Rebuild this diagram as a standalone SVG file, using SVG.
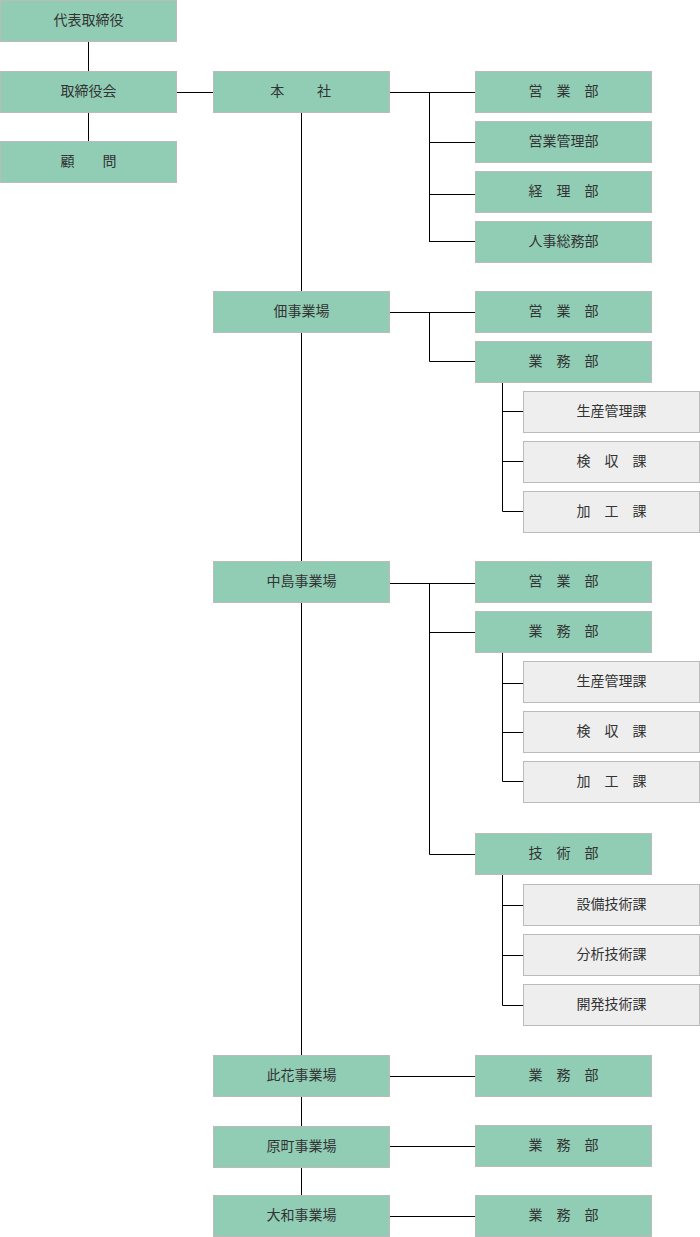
<svg xmlns="http://www.w3.org/2000/svg" width="700" height="1237" viewBox="0 0 700 1237">
<style>
.g{fill:#91cdb5;stroke:#bbbbbb;stroke-width:1}
.s{fill:#eeeeee;stroke:#bbbbbb;stroke-width:1}
.t{font-family:"Noto Sans CJK JP","Noto Sans",sans-serif;font-size:14px;fill:#333333;text-anchor:middle}
.c{fill:none;stroke:#000000;stroke-width:1}
</style>
<rect width="700" height="1237" fill="#ffffff"/>
<g id="connectors" class="c">
<path d="M88.5 42V71M88.5 113V141M177 92.5H213"/>
<path d="M301.5 113V1195"/>
<path d="M390 92.5H475M429.5 92V242M429.5 142.5H475M429.5 194.5H475M429.5 241.5H475"/>
<path d="M390 312.5H475M429.5 312V361.5H475M502.5 383V511.5H523M502.5 411.5H523M502.5 461.5H523"/>
<path d="M390 583.5H475M429.5 583V854.5H475M429.5 632.5H475M502.5 653V781.5H523M502.5 683.5H523M502.5 732.5H523M502.5 875V1005.5H523M502.5 905.5H523M502.5 955.5H523"/>
<path d="M390 1076.5H475M390 1146.5H475M390 1216.5H475"/>
</g>
<g id="n-daihyo"><rect class="g" x="0.5" y="0.5" width="176" height="41"/><text class="t" x="88.5" y="25">代表取締役</text></g>
<g id="n-torishimariyakukai"><rect class="g" x="0.5" y="71.5" width="176" height="41"/><text class="t" x="88.5" y="96">取締役会</text></g>
<g id="n-komon"><rect class="g" x="0.5" y="141.5" width="176" height="41"/><text class="t" x="88.5" y="166">顧　　問</text></g>
<g id="n-honsha"><rect class="g" x="213.5" y="71.5" width="176" height="41"/><text class="t" x="301.5" y="96" letter-spacing="1.6">本　　社</text></g>
<g id="n-honsha-eigyo"><rect class="g" x="475.5" y="71.5" width="176" height="41"/><text class="t" x="563.5" y="96">営　業　部</text></g>
<g id="n-honsha-eigyokanri"><rect class="g" x="475.5" y="121.5" width="176" height="41"/><text class="t" x="563.5" y="146">営業管理部</text></g>
<g id="n-honsha-keiri"><rect class="g" x="475.5" y="171.5" width="176" height="41"/><text class="t" x="563.5" y="196">経　理　部</text></g>
<g id="n-honsha-jinji"><rect class="g" x="475.5" y="221.5" width="176" height="41"/><text class="t" x="563.5" y="246">人事総務部</text></g>
<g id="n-tsukuda"><rect class="g" x="213.5" y="291.5" width="176" height="41"/><text class="t" x="301.5" y="316">佃事業場</text></g>
<g id="n-tsukuda-eigyo"><rect class="g" x="475.5" y="291.5" width="176" height="41"/><text class="t" x="563.5" y="316">営　業　部</text></g>
<g id="n-tsukuda-gyomu"><rect class="g" x="475.5" y="341.5" width="176" height="41"/><text class="t" x="563.5" y="366">業　務　部</text></g>
<g id="n-tsukuda-seisan"><rect class="s" x="523.5" y="391.5" width="176" height="41"/><text class="t" x="611.5" y="416">生産管理課</text></g>
<g id="n-tsukuda-kenshu"><rect class="s" x="523.5" y="441.5" width="176" height="41"/><text class="t" x="611.5" y="466">検　収　課</text></g>
<g id="n-tsukuda-kako"><rect class="s" x="523.5" y="491.5" width="176" height="41"/><text class="t" x="611.5" y="516">加　工　課</text></g>
<g id="n-nakajima"><rect class="g" x="213.5" y="561.5" width="176" height="41"/><text class="t" x="301.5" y="586">中島事業場</text></g>
<g id="n-nakajima-eigyo"><rect class="g" x="475.5" y="561.5" width="176" height="41"/><text class="t" x="563.5" y="586">営　業　部</text></g>
<g id="n-nakajima-gyomu"><rect class="g" x="475.5" y="611.5" width="176" height="41"/><text class="t" x="563.5" y="636">業　務　部</text></g>
<g id="n-nakajima-seisan"><rect class="s" x="523.5" y="661.5" width="176" height="41"/><text class="t" x="611.5" y="686">生産管理課</text></g>
<g id="n-nakajima-kenshu"><rect class="s" x="523.5" y="711.5" width="176" height="41"/><text class="t" x="611.5" y="736">検　収　課</text></g>
<g id="n-nakajima-kako"><rect class="s" x="523.5" y="761.5" width="176" height="41"/><text class="t" x="611.5" y="786">加　工　課</text></g>
<g id="n-nakajima-gijutsu"><rect class="g" x="475.5" y="833.5" width="176" height="41"/><text class="t" x="563.5" y="858">技　術　部</text></g>
<g id="n-nakajima-setsubi"><rect class="s" x="523.5" y="884.5" width="176" height="41"/><text class="t" x="611.5" y="909">設備技術課</text></g>
<g id="n-nakajima-bunseki"><rect class="s" x="523.5" y="934.5" width="176" height="41"/><text class="t" x="611.5" y="959">分析技術課</text></g>
<g id="n-nakajima-kaihatsu"><rect class="s" x="523.5" y="984.5" width="176" height="41"/><text class="t" x="611.5" y="1009">開発技術課</text></g>
<g id="n-konohana"><rect class="g" x="213.5" y="1055.5" width="176" height="41"/><text class="t" x="301.5" y="1080">此花事業場</text></g>
<g id="n-konohana-gyomu"><rect class="g" x="475.5" y="1055.5" width="176" height="41"/><text class="t" x="563.5" y="1080">業　務　部</text></g>
<g id="n-haramachi"><rect class="g" x="213.5" y="1126.5" width="176" height="41"/><text class="t" x="301.5" y="1151">原町事業場</text></g>
<g id="n-haramachi-gyomu"><rect class="g" x="475.5" y="1125.5" width="176" height="41"/><text class="t" x="563.5" y="1150">業　務　部</text></g>
<g id="n-yamato"><rect class="g" x="213.5" y="1195.5" width="176" height="41"/><text class="t" x="301.5" y="1220">大和事業場</text></g>
<g id="n-yamato-gyomu"><rect class="g" x="475.5" y="1195.5" width="176" height="41"/><text class="t" x="563.5" y="1220">業　務　部</text></g>
</svg>
